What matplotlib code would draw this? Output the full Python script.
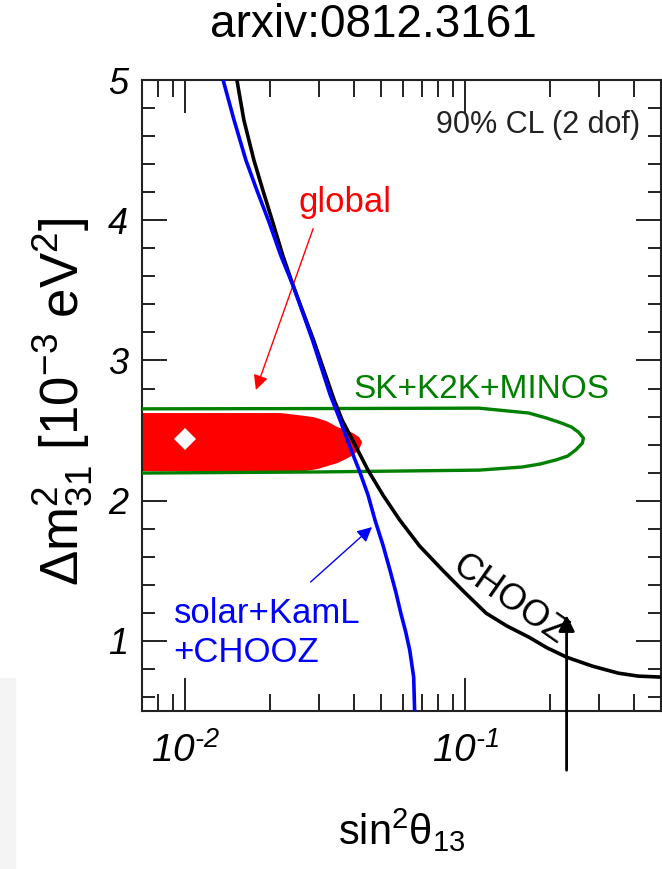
import numpy as np
import matplotlib
matplotlib.use("Agg")
import matplotlib.pyplot as plt
from matplotlib.ticker import MultipleLocator, FixedLocator, LogLocator, NullFormatter

plt.rcParams['font.family'] = ['Liberation Sans', 'DejaVu Sans']
plt.rcParams['mathtext.fontset'] = 'custom'
plt.rcParams['mathtext.rm'] = 'Liberation Sans:italic'   # used by the tick labels
plt.rcParams['mathtext.sf'] = 'Liberation Sans'          # upright, used for axis labels
plt.rcParams['mathtext.it'] = 'Liberation Sans:italic'
plt.rcParams['mathtext.default'] = 'sf'

# --- data ---
# solar+KamL+CHOOZ bound (blue)
solar_s13 = [0.01364, 0.01492, 0.01645, 0.0180, 0.0199, 0.02189, 0.02436, 0.02845,
             0.03293, 0.0357, 0.03847, 0.04175, 0.04493, 0.04757, 0.0508, 0.0538,
             0.05647, 0.05882, 0.06126, 0.0633, 0.06539, 0.0659]
solar_dm = [5.0, 4.715, 4.429, 4.215, 3.987, 3.752, 3.524, 3.145,
            2.753, 2.575, 2.397, 2.218, 2.040, 1.862, 1.683, 1.505,
            1.348, 1.198, 1.063, 0.934, 0.742, 0.50]

# CHOOZ bound (black)
chooz_s13 = [0.01528, 0.01618, 0.01757, 0.01891, 0.02051, 0.02226, 0.02436, 0.0287,
             0.0340, 0.0363, 0.0404, 0.0449, 0.0508, 0.0583, 0.0687, 0.0829,
             0.0992, 0.1186, 0.1409, 0.1686, 0.1953, 0.230, 0.2844, 0.352, 0.414, 0.50]
chooz_dm = [5.0, 4.715, 4.429, 4.215, 3.987, 3.752, 3.524, 3.145,
            2.718, 2.575, 2.397, 2.218, 2.040, 1.862, 1.676, 1.505,
            1.348, 1.198, 1.106, 1.027, 0.952, 0.884, 0.820, 0.770, 0.749, 0.742]

# SK+K2K+MINOS contour (green, closed)
atm_s13 = [0.0068, 0.03, 0.112, 0.1686, 0.1953, 0.221, 0.2396, 0.2535, 0.264,
           0.262, 0.2477, 0.2319, 0.2103, 0.1845, 0.1593, 0.112, 0.03, 0.0068]
atm_dm = [2.655, 2.657, 2.66, 2.625, 2.589, 2.553, 2.525, 2.489, 2.447,
          2.411, 2.361, 2.318, 2.29, 2.261, 2.24, 2.218, 2.205, 2.197]

# global fit region (red, filled)
glob_s13 = [0.0068, 0.0219, 0.0252, 0.0287, 0.0319, 0.0349, 0.0375, 0.0397, 0.0417,
            0.0428, 0.0417, 0.0397, 0.0375, 0.0349, 0.0322, 0.0296, 0.0264, 0.0068]
glob_dm = [2.625, 2.625, 2.611, 2.596, 2.568, 2.525, 2.504, 2.482, 2.454,
           2.418, 2.361, 2.325, 2.297, 2.268, 2.247, 2.225, 2.21, 2.21]

best_fit = (0.01, 2.44)

x_ticks = [0.01, 0.1]
x_ticklabels = ['$\\mathrm{10^{\u20102}}$', '$\\mathrm{10^{\u20101}}$']

fig = plt.figure(figsize=(6.62, 8.69), dpi=100)
# faint slide background strip at the lower left
fig.patches.append(plt.Rectangle((0, 0), 0.023, 0.22, transform=fig.transFigure,
                                 color='#f4f4f4', zorder=0))
ax = fig.add_axes([0.2145, 0.1818, 0.7840, 0.7261])

ax.fill(glob_s13, glob_dm, color='#ff0000', lw=0, zorder=2)
ax.plot(best_fit[0], best_fit[1], marker='D', ms=11, color='white', mew=0, zorder=5)
ax.plot(atm_s13, atm_dm, color='#008000', lw=2.4, zorder=3, solid_joinstyle='round')
ax.plot(chooz_s13, chooz_dm, color='black', lw=2.6, zorder=3, solid_joinstyle='round')
ax.plot(solar_s13, solar_dm, color='#0000ff', lw=2.6, zorder=4, solid_joinstyle='round')

ax.set_xscale('log')
ax.set_xlim(0.007, 0.5)
ax.set_ylim(0.5, 5)

ax.xaxis.set_major_locator(FixedLocator(x_ticks))
ax.xaxis.set_minor_locator(LogLocator(base=10, subs=np.arange(2, 10)))
ax.xaxis.set_minor_formatter(NullFormatter())
ax.set_xticklabels(x_ticklabels)
ax.yaxis.set_major_locator(MultipleLocator(1))
ax.yaxis.set_minor_locator(MultipleLocator(0.2))

ax.tick_params(which='both', direction='in', top=True, right=True, width=1.4,
               color='#222222', labelcolor='black')
ax.tick_params(axis='x', which='major', length=24, labelsize=28, pad=15)
ax.tick_params(axis='x', which='minor', length=12)
ax.tick_params(axis='y', which='major', length=18, labelsize=26, pad=10)
ax.tick_params(axis='y', which='minor', length=9.5)
for lbl in ax.get_yticklabels():
    lbl.set_fontstyle('italic')
for s in ax.spines.values():
    s.set_linewidth(1.5)
    s.set_color('#222222')

ax.set_xlabel(r'sin$^2\theta_{13}$', fontsize=30)
ax.set_ylabel(r'$\Delta$m$^2_{31}$ [10$^{-3}$ eV$^2$]', fontsize=38)
ax.xaxis.set_label_coords(0.5, -0.152)
ax.yaxis.set_label_coords(-0.0925, 0.49)

# labels and arrows
ax.text(0.96, 0.916, '90% CL (2 dof)', transform=ax.transAxes, ha='right',
        va='baseline', fontsize=22, color='#222222')
ax.text(0.0372, 4.06, 'global', color='#ff0000', fontsize=25, ha='center', va='baseline')
ax.text(0.0397, 2.73, 'SK+K2K+MINOS', color='#008000', fontsize=24, ha='left', va='baseline')
ax.text(0.00907, 1.127, 'solar+KamL', color='#0000ff', fontsize=25, ha='left', va='baseline')
ax.text(0.00907, 0.849, '+CHOOZ', color='#0000ff', fontsize=25, ha='left', va='baseline')
ax.text(0.1432, 1.291, 'CHOOZ', color='black', fontsize=26, ha='center', va='center',
        rotation=-35, rotation_mode='anchor')

ax.annotate('', xy=(0.01786, 2.79), xytext=(0.0286, 3.94),
            arrowprops=dict(arrowstyle='-|>', color='#ff0000', lw=1.0,
                            mutation_scale=22, shrinkA=0, shrinkB=0))
ax.annotate('', xy=(0.0464, 1.812), xytext=(0.028, 1.42),
            arrowprops=dict(arrowstyle='-|>', color='#0000ff', lw=1.0,
                            mutation_scale=22, shrinkA=0, shrinkB=0))
ax.annotate('', xy=(0.230, 1.184), xytext=(0.230, 0.078),
            arrowprops=dict(arrowstyle='-|>', color='black', lw=2.0,
                            mutation_scale=24, shrinkA=0, shrinkB=0),
            annotation_clip=False)

fig.text(0.564, 0.957, 'arxiv:0812.3161', fontsize=33, ha='center', va='baseline')

fig.savefig('out.png', dpi=100)
